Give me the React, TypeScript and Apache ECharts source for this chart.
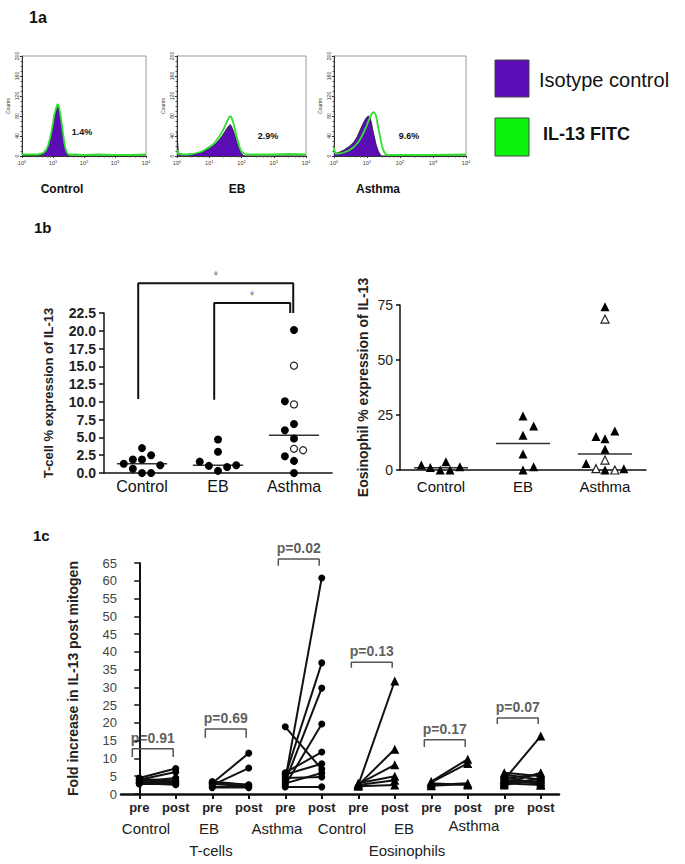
import React, { useEffect, useRef } from 'react';
import * as echarts from 'echarts';

const FONT = '"Liberation Sans", Arial, Helvetica, sans-serif';
const PURPLE = '#5a0db5';
const GREEN = '#2fe02f';

// ---------- 1a: flow histograms, [fluorescence, counts] ----------
const histNames = ['Control', 'EB', 'Asthma'];
const histPercents = ['1.4%', '2.9%', '9.6%'];
const legendLabels = ['Isotype control', 'IL-13 FITC'];

const controlIsotype = [[1, 1], [3, 1], [4, 2], [5, 5], [6, 10], [7, 20], [8, 32], [9, 48], [10, 62], [11, 78], [12.5, 90], [14, 98], [15.5, 96], [17, 82], [19, 62], [21, 42], [23, 26], [25, 14], [28, 5], [31, 1], [40, 0], [10000, 0]];
const controlIL13 = [[1, 3], [2, 3], [3, 3], [4, 4], [5, 7], [6, 12], [7, 22], [8, 35], [9, 50], [10, 66], [11, 82], [12.5, 95], [14, 104], [15.5, 100], [17, 86], [19, 66], [21, 46], [23, 28], [25, 16], [28, 7], [32, 3], [50, 3], [100, 2], [300, 3], [1000, 2], [3000, 2], [10000, 3]];
const ebIsotype = [[1, 48], [1.1, 6], [1.5, 3], [2, 3], [3, 4], [4, 5], [6, 8], [8, 12], [10, 15], [13, 20], [16, 25], [20, 32], [25, 40], [30, 48], [35, 55], [40, 60], [45, 63], [50, 58], [56, 50], [63, 40], [70, 30], [80, 18], [90, 10], [100, 5], [115, 1], [130, 0], [10000, 0]];
const ebIL13 = [[1, 12], [1.1, 4], [1.5, 3], [2, 3], [3, 4], [4, 6], [6, 9], [8, 14], [10, 18], [13, 23], [16, 30], [20, 38], [25, 48], [30, 58], [35, 68], [40, 76], [45, 80], [50, 76], [56, 66], [63, 52], [70, 40], [80, 26], [90, 16], [100, 9], [120, 5], [150, 3], [250, 3], [1000, 3], [3000, 4], [10000, 3]];
const asthmaIsotype = [[1, 12], [1.1, 5], [1.5, 8], [2, 12], [3, 20], [4, 28], [5, 38], [6, 50], [7, 60], [8, 68], [9, 74], [10, 78], [11, 80], [12, 78], [13.5, 68], [15, 52], [17, 36], [19, 22], [22, 10], [25, 3], [28, 0], [10000, 0]];
const asthmaIL13 = [[1, 16], [1.1, 5], [1.5, 5], [2, 7], [3, 12], [4, 18], [5, 25], [6, 32], [7, 40], [8, 48], [9, 55], [10, 62], [11, 70], [12.5, 78], [14, 85], [16, 88], [18, 84], [20, 72], [22, 56], [25, 38], [28, 22], [32, 10], [36, 4], [45, 2], [100, 2], [1000, 2], [10000, 3]];

// ---------- 1b: dot plots, [jitter offset, value] ----------
const groups1b = ['Control', 'EB', 'Asthma'];
const tcellControl = [[-0.24, 1.3], [-0.12, 1.9], [-0.12, 0.6], [0, 3.5], [0, 1.9], [0, 0], [0.12, 2.5], [0.12, 0], [0.24, 1.1]];
const tcellEB = [[-0.24, 1.6], [-0.12, 1.0], [0, 4.7], [0, 3.0], [0, 0.3], [0.12, 0.85], [0.24, 1.1]];
const tcellAsthma = [[0, 20.1], [-0.12, 10.1], [0, 6.9], [-0.12, 6.0], [0, 4.85], [-0.12, 2.35], [0, 1.7], [0, 0]];
const tcellAsthmaOpen = [[0, 15.1], [0, 9.65], [0, 3.4], [0.12, 3.2]];
const tcellMedians = [1.3, 1.1, 5.3];
// [left x, right x, left foot, top, right foot]
const sigBrackets = [[0.95, 2.99, 10.4, 26.7, 22.5], [1.95, 2.95, 10.3, 23.9, 22.5]];
const sigLabels = ['*', '*'];

const eosControl = [[-0.24, 2.3], [-0.13, 1.1], [-0.01, 0], [0.06, 3.8], [0.11, 0], [0.23, 1.5]];
const eosEB = [[0, 24.5], [0.13, 20], [0, 15.8], [0, 7.3], [0, 0], [0.13, 1.5]];
const eosAsthma = [[0, 74.2], [-0.11, 15.2], [0, 14.2], [0.12, 17.7], [0, 9.4], [-0.23, 3.0], [0, 0], [0.23, 0.6]];
const eosAsthmaOpen = [[0, 68.6], [0, 4.5], [-0.11, 0.6], [0.12, 0]];
const eosMedians = [1.0, 12.1, 7.3];

// ---------- 1c: paired pre/post, [pre, post] ----------
const prePost = ['pre', 'post', 'pre', 'post', 'pre', 'post', 'pre', 'post', 'pre', 'post', 'pre', 'post'];
const groupLabels1c = ['Control', 'EB', 'Asthma', 'Control', 'EB', 'Asthma'];
const cellTypes = ['T-cells', 'Eosinophils'];
const tcControl = [[4.5, 7.2], [4.0, 6.2], [3.5, 4.5], [3.2, 3.5], [3.0, 3.0], [2.8, 2.8], [3.8, 3.4], [3.0, 2.6], [4.2, 3.8]];
const tcEB = [[3.0, 11.5], [2.5, 7.3], [3.5, 2.5], [2.0, 2.0], [2.8, 2.2], [1.8, 1.8], [3.2, 2.6]];
const tcAsthma = [[4.0, 60.8], [5.0, 36.9], [3.5, 29.8], [2.5, 19.7], [6.0, 11.8], [18.9, 7.0], [3.0, 5.9], [4.5, 4.8], [2.0, 2.0], [5.5, 8.5]];
const eoControl = [[2.5, 31.8], [2.5, 12.6], [2.8, 8.2], [3.0, 5.0], [2.5, 3.9], [2.2, 2.5]];
const eoEB = [[3.5, 9.8], [3.3, 8.6], [2.5, 3.0], [2.3, 2.8], [3.0, 2.5]];
const eoAsthma = [[4.0, 16.3], [5.5, 4.0], [4.5, 5.5], [3.5, 3.0], [3.0, 6.0], [5.0, 2.5], [2.5, 4.5], [6.0, 5.0], [4.0, 3.5], [3.0, 2.5]];
const pValues = ['p=0.91', 'p=0.69', 'p=0.02', 'p=0.13', 'p=0.17', 'p=0.07'];
const bracketTop = [12.7, 18.3, 66.1, 37.1, 15.3, 21.4];
const bracketFoot = [10.4, 15.8, 64.2, 35.5, 13.2, 19.7];

function buildOption() {
  const histData = [
    { iso: controlIsotype, il13: controlIL13 },
    { iso: ebIsotype, il13: ebIL13 },
    { iso: asthmaIsotype, il13: asthmaIL13 },
  ];
  const histGrids = [
    { left: 22, top: 56, width: 124, height: 100 },
    { left: 177, top: 56, width: 129, height: 100 },
    { left: 334, top: 56, width: 132, height: 100 },
  ];
  const grid: any[] = histGrids.map((g) => ({ ...g, show: true, borderColor: '#9a9a9a', borderWidth: 1, backgroundColor: 'transparent' }));
  grid.push({ left: 104, top: 313, width: 228, height: 160 });
  grid.push({ left: 400, top: 305, width: 246, height: 165 });
  grid.push({ left: 121, top: 563, width: 438, height: 231 });

  const xAxis: any[] = [];
  const yAxis: any[] = [];
  histGrids.forEach((_, i) => {
    xAxis.push({
      type: 'log', logBase: 10, gridIndex: i, min: 1, max: 10000,
      axisLine: { show: true, lineStyle: { color: '#333', width: 1 } },
      axisTick: { show: true, length: 2, lineStyle: { color: '#333' } },
      minorTick: { show: true, length: 1.5, lineStyle: { color: '#555' } },
      splitLine: { show: false },
      axisLabel: {
        margin: 3, color: '#333', fontFamily: FONT,
        formatter: (v: number) => '{b|10}{s|' + Math.round(Math.log10(v)) + '}',
        rich: { b: { fontSize: 5.5, color: '#333' }, s: { fontSize: 4, color: '#333', padding: [0, 0, 4, 0] } },
      },
    });
    yAxis.push({
      type: 'value', gridIndex: i, min: 0, max: 200, interval: 40,
      name: 'Counts', nameLocation: 'middle', nameGap: 12,
      nameTextStyle: { fontSize: 5, color: '#333', fontFamily: FONT },
      axisLine: { show: true, lineStyle: { color: '#333', width: 1 } },
      axisTick: { show: true, length: 2, lineStyle: { color: '#333' } },
      minorTick: { show: true, length: 1.5, splitNumber: 4, lineStyle: { color: '#555' } },
      splitLine: { show: false },
      axisLabel: { rotate: 90, fontSize: 5, margin: 3, color: '#333', fontFamily: FONT },
    });
  });

  // 1b left
  xAxis.push({
    type: 'category', gridIndex: 3, data: groups1b,
    axisLine: { lineStyle: { color: '#111', width: 1.5 } }, axisTick: { show: false },
    axisLabel: { fontSize: 16, color: '#111', margin: 5, fontFamily: FONT },
  });
  xAxis.push({ type: 'value', gridIndex: 3, min: 0.5, max: 3.5, show: false });
  yAxis.push({
    type: 'value', gridIndex: 3, min: 0, max: 22.5, interval: 2.5,
    name: 'T-cell % expression of IL-13', nameLocation: 'middle', nameGap: 49,
    nameTextStyle: { fontSize: 13, fontWeight: 'bold', color: '#222', fontFamily: FONT },
    axisLine: { show: true, lineStyle: { color: '#111', width: 1.5 } },
    axisTick: { show: true, length: 5, lineStyle: { color: '#111', width: 1.5 } },
    splitLine: { show: false },
    axisLabel: { fontSize: 14, fontWeight: 'bold', color: '#222', margin: 8, fontFamily: FONT, formatter: (v: number) => v.toFixed(1) },
  });
  // 1b right
  xAxis.push({
    type: 'category', gridIndex: 4, data: groups1b,
    axisLine: { lineStyle: { color: '#111', width: 1.5 } }, axisTick: { show: false },
    axisLabel: { fontSize: 15, color: '#111', margin: 9, fontFamily: FONT },
  });
  xAxis.push({ type: 'value', gridIndex: 4, min: 0.5, max: 3.5, show: false });
  yAxis.push({
    type: 'value', gridIndex: 4, min: 0, max: 75, interval: 25,
    name: 'Eosinophil % expression of IL-13', nameLocation: 'middle', nameGap: 30,
    nameTextStyle: { fontSize: 14, fontWeight: 'bold', color: '#222', fontFamily: FONT },
    axisLine: { show: true, lineStyle: { color: '#111', width: 1.5 } },
    axisTick: { show: true, length: 4, lineStyle: { color: '#111', width: 1.5 } },
    splitLine: { show: false },
    axisLabel: { fontSize: 14, color: '#222', margin: 7, fontFamily: FONT },
  });
  // 1c
  xAxis.push({
    type: 'category', gridIndex: 5, data: prePost,
    axisLine: { lineStyle: { color: '#111', width: 2.5 } },
    axisTick: { show: true, alignWithLabel: true, interval: 0, length: 5, lineStyle: { color: '#111', width: 2 } },
    axisLabel: { interval: 0, fontSize: 13, fontWeight: 'bold', color: '#222', margin: 7, fontFamily: FONT },
  });
  xAxis.push({ type: 'value', gridIndex: 5, min: -0.5, max: 11.5, show: false });
  yAxis.push({
    type: 'value', gridIndex: 5, min: 0, max: 65, interval: 5,
    name: 'Fold increase in IL-13 post mitogen', nameLocation: 'middle', nameGap: 41,
    nameTextStyle: { fontSize: 14, fontWeight: 'bold', color: '#222', fontFamily: FONT },
    axisLine: { show: true, lineStyle: { color: '#111', width: 2 } },
    axisTick: { show: true, length: 5, lineStyle: { color: '#111', width: 1.5 } },
    splitLine: { show: false },
    axisLabel: { fontSize: 13, color: '#444', margin: 4, fontFamily: FONT },
  });

  const series: any[] = [];
  histData.forEach((h, i) => {
    series.push({ type: 'line', xAxisIndex: i, yAxisIndex: i, data: h.iso, symbol: 'none', lineStyle: { color: '#1a1a1a', width: 0.8 }, areaStyle: { color: PURPLE, opacity: 1 }, z: 2 });
    series.push({ type: 'line', xAxisIndex: i, yAxisIndex: i, data: h.il13, symbol: 'none', lineStyle: { color: GREEN, width: 1.8 }, z: 3 });
  });

  const toPts = (g: number, arr: number[][]) => arr.map(([o, v]) => [g + 1 + o, v]);

  // 1b left
  series.push({
    type: 'scatter', xAxisIndex: 4, yAxisIndex: 3, symbol: 'circle', symbolSize: 8, clip: false, z: 5,
    itemStyle: { color: '#000', opacity: 1 },
    data: [...toPts(0, tcellControl), ...toPts(1, tcellEB), ...toPts(2, tcellAsthma)],
  });
  series.push({
    type: 'scatter', xAxisIndex: 4, yAxisIndex: 3, symbol: 'circle', symbolSize: 7, clip: false, z: 5,
    itemStyle: { color: '#fff', borderColor: '#222', borderWidth: 1.2, opacity: 1 },
    data: toPts(2, tcellAsthmaOpen),
  });
  tcellMedians.forEach((m, g) => {
    series.push({ type: 'line', xAxisIndex: 4, yAxisIndex: 3, data: [[g + 1 - 0.33, m], [g + 1 + 0.33, m]], symbol: 'none', lineStyle: { color: '#333', width: 1.5 }, z: 4 });
  });
  sigBrackets.forEach(([l, r, lb, t, rb]) => {
    series.push({ type: 'line', xAxisIndex: 4, yAxisIndex: 3, clip: false, data: [[l, lb], [l, t], [r, t], [r, rb]], symbol: 'none', lineStyle: { color: '#111', width: 2 } });
  });
  series.push({
    type: 'scatter', xAxisIndex: 4, yAxisIndex: 3, clip: false, symbolSize: 0,
    data: sigBrackets.map((b, i) => ({ value: [(b[0] + b[1]) / 2, b[3]], label: { formatter: sigLabels[i] } })),
    label: { show: true, position: 'top', distance: 1, fontSize: 12, color: '#555', fontFamily: FONT },
  });

  // 1b right
  series.push({
    type: 'scatter', xAxisIndex: 6, yAxisIndex: 4, symbol: 'triangle', symbolSize: 9, clip: false, z: 5,
    itemStyle: { color: '#000', opacity: 1 },
    data: [...toPts(0, eosControl), ...toPts(1, eosEB), ...toPts(2, eosAsthma)],
  });
  series.push({
    type: 'scatter', xAxisIndex: 6, yAxisIndex: 4, symbol: 'triangle', symbolSize: 8, clip: false, z: 5,
    itemStyle: { color: '#fff', borderColor: '#222', borderWidth: 1.2, opacity: 1 },
    data: toPts(2, eosAsthmaOpen),
  });
  eosMedians.forEach((m, g) => {
    series.push({ type: 'line', xAxisIndex: 6, yAxisIndex: 4, data: [[g + 1 - 0.33, m], [g + 1 + 0.33, m]], symbol: 'none', lineStyle: { color: '#333', width: 1.5 }, z: 4 });
  });

  // 1c
  const pairGroups = [tcControl, tcEB, tcAsthma, eoControl, eoEB, eoAsthma];
  pairGroups.forEach((pairs, k) => {
    pairs.forEach(([pre, post]) => {
      series.push({
        type: 'line', xAxisIndex: 8, yAxisIndex: 5, clip: false,
        data: [[2 * k, pre], [2 * k + 1, post]],
        symbol: k < 3 ? 'circle' : 'triangle', symbolSize: k < 3 ? 7 : 9, showSymbol: true,
        itemStyle: { color: '#000', opacity: 1 }, lineStyle: { color: '#111', width: 2 },
      });
    });
    const l = 2 * k - 0.19;
    const r = 2 * k + 1 - 0.07;
    series.push({
      type: 'line', xAxisIndex: 8, yAxisIndex: 5, clip: false, symbol: 'none',
      data: [[l, bracketFoot[k]], [l, bracketTop[k]], [r, bracketTop[k]], [r, bracketFoot[k]]],
      lineStyle: { color: '#555', width: 1.5 },
    });
  });
  series.push({
    type: 'scatter', xAxisIndex: 8, yAxisIndex: 5, clip: false, symbolSize: 0,
    data: pValues.map((p, k) => ({ value: [2 * k + 0.37, bracketTop[k]], label: { formatter: p } })),
    label: { show: true, position: 'top', distance: 4, fontSize: 14, fontWeight: 'bold', color: '#333', fontFamily: FONT },
  });

  const txt = (x: number, y: number, text: string, size: number, weight: string = 'normal', align: string = 'center', fill = '#111') => ({
    type: 'text', x, y,
    style: { text, fontSize: size, fontWeight: weight, fontFamily: FONT, fill, align, verticalAlign: 'middle' },
  });

  const histLabelX = [62, 237, 378];
  const histPctPos = [[82, 132], [268, 136], [409, 136]];
  const groupLabelX = [146, 209, 277, 342, 404, 474];
  const groupLabelY = [828, 828, 828, 828, 828, 825];
  const cellTypeX = [211, 407];

  const graphic: any[] = [
    txt(29, 17, '1a', 16, 'bold', 'left'),
    txt(34, 227, '1b', 15, 'bold', 'left'),
    txt(33, 535, '1c', 15, 'bold', 'left'),
    ...histNames.map((n, i) => txt(histLabelX[i], 189, n, 12, 'bold')),
    ...histPercents.map((p, i) => txt(histPctPos[i][0], histPctPos[i][1], p, 9, 'bold')),
    { type: 'rect', shape: { x: 495, y: 60, width: 34, height: 37 }, style: { fill: PURPLE, stroke: '#444', lineWidth: 1 } },
    { type: 'rect', shape: { x: 495, y: 118, width: 34, height: 38 }, style: { fill: '#0cf20c', stroke: '#444', lineWidth: 1 } },
    txt(539, 80, legendLabels[0], 20, 'normal', 'left'),
    txt(543, 134, legendLabels[1], 18, 'bold', 'left'),
    ...groupLabels1c.map((g, i) => txt(groupLabelX[i], groupLabelY[i], g, 15, 'normal', 'center', '#222')),
    ...cellTypes.map((c, i) => txt(cellTypeX[i], 850, c, 15, 'normal', 'center', '#222')),
  ];

  return { animation: false, backgroundColor: '#fff', grid, xAxis, yAxis, series, graphic };
}

export default function App() {
  const ref = useRef<HTMLDivElement>(null);
  useEffect(() => {
    const chart = echarts.init(ref.current!, null, { renderer: 'svg' });
    chart.setOption(buildOption() as any);
    return () => chart.dispose();
  }, []);
  return <div ref={ref} style={{ position: 'absolute', left: 0, top: 0, width: 685, height: 864, background: '#fff' }} />;
}
